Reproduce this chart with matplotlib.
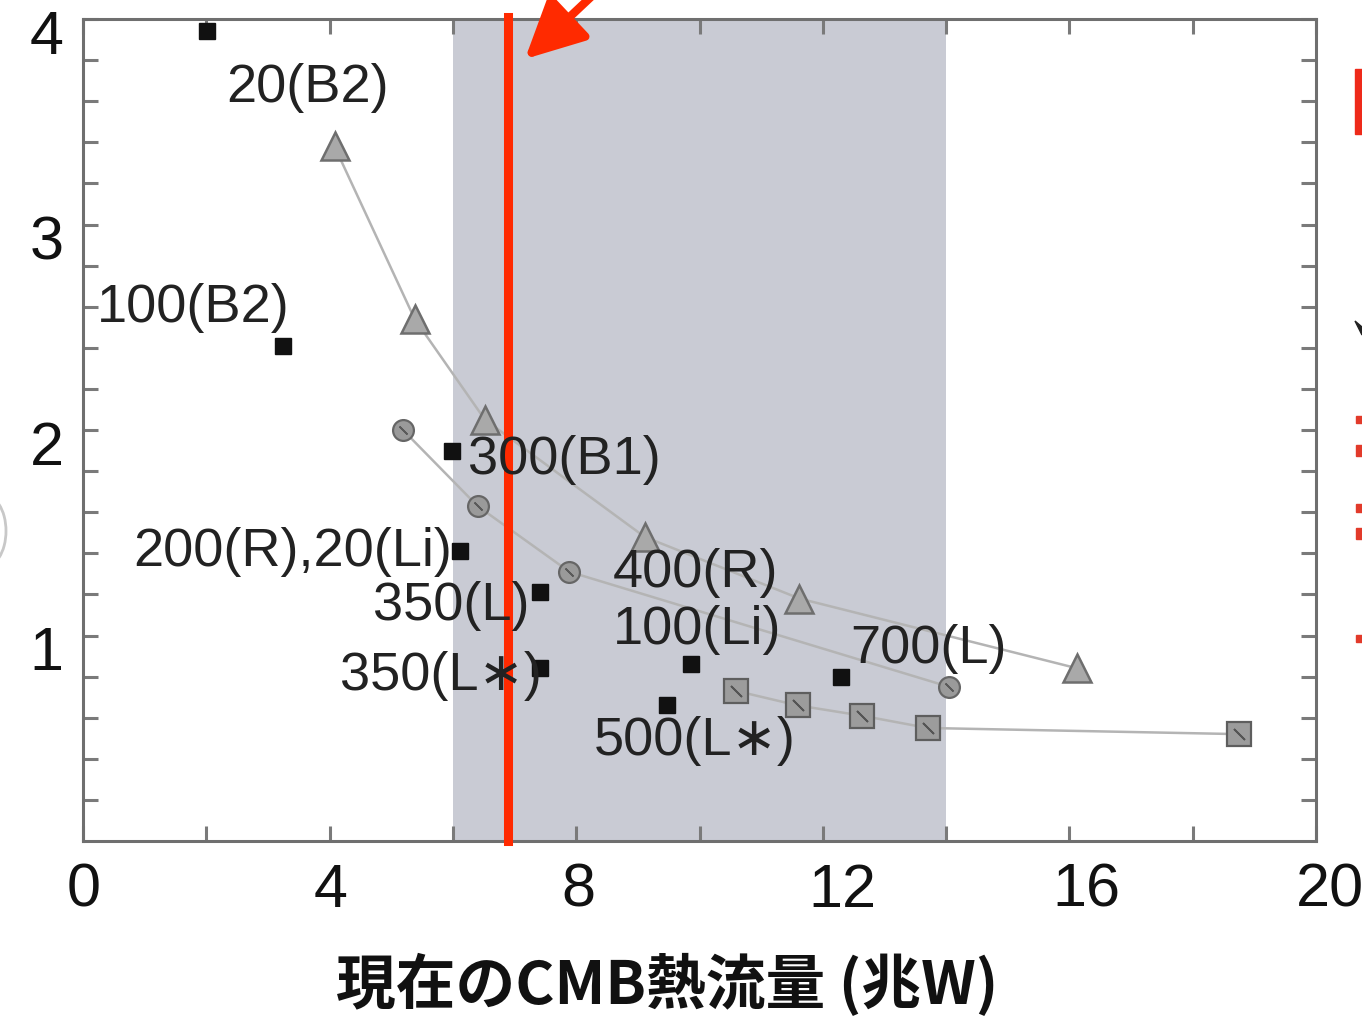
import matplotlib
matplotlib.use("Agg")
import matplotlib.pyplot as plt
from matplotlib.transforms import ScaledTranslation
from matplotlib.patches import Rectangle, Polygon, Arc

# ---------------- data ----------------
# filled black squares (individual runs)
sq_x = [2.01, 3.24, 5.98, 6.11, 7.41, 7.41, 9.87, 9.48, 12.30]
sq_y = [3.94, 2.41, 1.90, 1.41, 1.21, 0.84, 0.86, 0.66, 0.80]

# grey triangle series
tri_x = [4.08, 5.38, 6.52, 9.11, 11.62, 16.13]
tri_y = [3.38, 2.54, 2.05, 1.48, 1.18, 0.84]

# grey circle series
cir_x = [5.19, 6.40, 7.89, 14.05]
cir_y = [2.00, 1.63, 1.31, 0.75]

# hatched grey square series
hsq_x = [10.60, 11.59, 12.63, 13.70, 18.75]
hsq_y = [0.73, 0.66, 0.61, 0.55, 0.52]

# shaded range of present CMB heat flow and the red estimate line
band_lo, band_hi = 6.0, 14.0
red_x = 6.9

# annotation labels and their (x, y) anchor (left, centre)
labels = ["20(B2)", "100(B2)", "300(B1)", "200(R),20(Li)", "350(L)",
          "350(L\u2217)", "400(R)", "100(Li)", "700(L)", "500(L\u2217)"]
label_x = [2.32, 0.23, 6.24, 0.81, 4.70, 4.17, 8.59, 8.59, 12.45, 8.28]
label_y = [3.67, 2.60, 1.86, 1.41, 1.15, 0.81, 1.31, 1.03, 0.94, 0.49]

xticks_major = [0, 4, 8, 12, 16, 20]
xtick_labels = ["0", "4", "8", "12", "16", "20"]
yticks_major = [1, 2, 3, 4]
ytick_labels = ["1", "2", "3", "4"]

xlabel = "現在のCMB熱流量 (兆W)"

# ---------------- figure ----------------
W, H = 1362, 1020
fig = plt.figure(figsize=(W / 100, H / 100), dpi=100)
ax = fig.add_axes([83 / W, 1 - 842 / H, (1316 - 83) / W, (842 - 20) / H])

latin = ["Liberation Sans", "DejaVu Sans"]

ax.axvspan(band_lo, band_hi, color="#c9cbd4", zorder=0, lw=0)

line_c = "#b4b4b4"
ax.plot(tri_x, tri_y, color=line_c, lw=1.8, zorder=2)
ax.plot(cir_x, cir_y, color=line_c, lw=1.8, zorder=2)
ax.plot(hsq_x, hsq_y, color=line_c, lw=1.8, zorder=2)

ax.plot(tri_x, tri_y, ls="none", marker="^", ms=20, mfc="#a9a9a9",
        mec="#6e6e6e", mew=1.8, zorder=3)
ax.plot(cir_x, cir_y, ls="none", marker="o", ms=15, mfc="#9a9a9a",
        mec="#666666", mew=1.6, zorder=3)
ax.plot(cir_x, cir_y, ls="none", marker=(2, 2, 45), ms=8, mec="#5a5a5a",
        mew=1.2, zorder=4)
ax.plot(hsq_x, hsq_y, ls="none", marker="s", ms=17, mfc="#9c9c9c",
        mec="#5e5e5e", mew=1.6, zorder=3)
ax.plot(hsq_x, hsq_y, ls="none", marker=(2, 2, 45), ms=11, mec="#555555",
        mew=1.3, zorder=4)
ax.plot(sq_x, sq_y, ls="none", marker="s", ms=12, mfc="#111111",
        mec="#111111", zorder=5)

ax.axvline(red_x, color="#ff2a00", lw=6.5, zorder=6, ymax=1.003, clip_on=False)

for t, x, y in zip(labels, label_x, label_y):
    ax.text(x, y, t, ha="left", va="center", fontsize=39, color="#222222",
            family=latin, zorder=7)

ax.set_xlim(0, 20)
ax.set_ylim(0, 4)
ax.set_xticks(xticks_major)
ax.set_xticklabels(xtick_labels, family=latin, fontsize=44, color="#111111")
ax.set_xticks([2, 6, 10, 14, 18], minor=True)
ax.set_yticks(yticks_major)
ax.set_yticklabels(ytick_labels, family=latin, fontsize=44, color="#111111")
ax.set_yticks([0.2 * i for i in range(1, 20) if i % 5 != 0], minor=True)

for which in ("major", "minor"):
    ax.tick_params(axis="both", which=which, direction="in", length=11,
                   width=2.2, color="#7a7a7a", top=True, right=True)
ax.tick_params(axis="x", which="major", pad=15)
ax.tick_params(axis="y", which="major", pad=14)

for s in ax.spines.values():
    s.set_color("#6f6f6f")
    s.set_linewidth(2.2)

# small offsets of the (overlaid) tick labels seen in the reference
x_off = [1, 1, 2, 20, 17, 14]
for lbl, dx in zip(ax.get_xticklabels(), x_off):
    lbl.set_transform(lbl.get_transform() +
                      ScaledTranslation(dx / 100, 0, fig.dpi_scale_trans))
for lbl in ax.get_yticklabels():
    lbl.set_transform(lbl.get_transform() +
                      ScaledTranslation(0, -12 / 100, fig.dpi_scale_trans))

fig.text(667 / W, 1 - 985 / H, xlabel, ha="center", va="center",
         fontsize=43, fontweight="bold",
         family=["Noto Sans CJK JP", "DejaVu Sans"], color="#111111")

# red arrow pointing at the red line (coming from outside the frame)
ax.annotate("", xy=(525 / W, 1 - 60 / H), xycoords="figure fraction",
            xytext=(610 / W, 1 + 20 / H), textcoords="figure fraction",
            arrowprops=dict(arrowstyle="-|>,head_width=0.6,head_length=1.2",
                            mutation_scale=30, color="#ff2a00", lw=6,
                            shrinkA=0, shrinkB=0),
            annotation_clip=False)

# fragments of neighbouring slide content cut by the frame edges (shapes only)
fig.patches.append(Rectangle((1355 / W, 1 - 135 / H), 10 / W, 65 / H,
                             transform=fig.transFigure, color="#ee2a1a"))
for y0, h in [(417, 7), (446, 11), (505, 8), (529, 11), (636, 7)]:
    fig.patches.append(Rectangle((1356 / W, 1 - (y0 + h) / H), 8 / W, h / H,
                                 transform=fig.transFigure, color="#e23a2a"))
fig.patches.append(Polygon([(1355 / W, 1 - 322 / H), (1362 / W, 1 - 328 / H),
                            (1362 / W, 1 - 336 / H)], closed=True,
                           transform=fig.transFigure, color="#222222"))
fig.patches.append(Arc((-14 / W, 1 - 532 / H), 40 / W, 70 / H, theta1=-70,
                       theta2=70, transform=fig.transFigure, color="#c8c8c8",
                       lw=2))

fig.savefig("out.png", dpi=100, facecolor="white")
